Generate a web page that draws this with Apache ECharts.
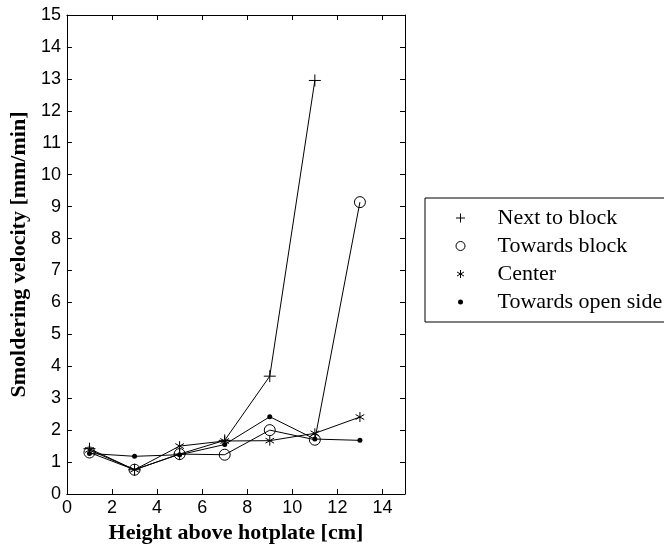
<!DOCTYPE html>
<html>
<head>
<meta charset="utf-8">
<script src="https://cdn.jsdelivr.net/npm/echarts@6/dist/echarts.min.js"></script>
<style>
  html, body { margin: 0; padding: 0; background: #fff; }
  #chart { width: 664px; height: 549px; }
</style>
</head>
<body>
<div id="chart"></div>
<script>
// Heights above the hotplate [cm]
const heights = [1, 3, 5, 7, 9, 11, 13];

// Smoldering velocity [mm/min] per measurement location
const nextToBlock     = [1.42, 0.76, 1.25, 1.68, 3.69, 12.95, null];
const towardsBlock    = [1.30, 0.76, 1.25, 1.23, 2.00, 1.70, 9.14];
const center          = [1.38, 0.76, 1.50, 1.66, 1.67, 1.90, 2.41];
const towardsOpenSide = [1.27, 1.18, 1.23, 1.55, 2.42, 1.72, 1.68];

const seriesNames = ['Next to block', 'Towards block', 'Center', 'Towards open side'];

// Axis ranges
const xMin = 0, xMax = 15, xStep = 2;
const yMin = 0, yMax = 15, yStep = 1;

const pairs = (ys) => heights.map((h, i) => [h, ys[i]]);

// Marker shapes
const PLUS = 'path://M0,5L10,5M5,0L5,10';
const STAR = 'path://M5,0L5,10M0.67,2.5L9.33,7.5M0.67,7.5L9.33,2.5';
// Legend icons, padded to a fixed 12x12 extent
const L_PLUS = 'path://M0,0M12,12M1.5,6L10.5,6M6,1.5L6,10.5';
const L_CIRC = 'path://M0,0M12,12M10.5,6A4.5,4.5,0,1,1,1.5,6A4.5,4.5,0,1,1,10.5,6Z';
const L_STAR = 'path://M0,0M12,12M6,2L6,10M2.54,4L9.46,8M2.54,8L9.46,4';
const L_DOT  = 'path://M0,0M12,12M6,3.5A2.5,2.5,0,1,1,6,8.5A2.5,2.5,0,1,1,6,3.5Z';

const hollow = { color: 'rgba(0,0,0,0)', borderColor: '#000', borderWidth: 1 };
const solid = { color: '#000', borderColor: '#000', borderWidth: 0 };

const tickFont = { fontFamily: 'Liberation Sans', fontSize: 18, color: '#000' };
const titleFont = { fontFamily: 'Liberation Serif', fontSize: 22, fontWeight: 'bold', color: '#000' };

// Boxed frame: every side gets a line with inward ticks
const frameAxis = () => ({
  axisLine: { show: true, onZero: false, lineStyle: { color: '#000', width: 1 } },
  axisTick: { show: true, inside: true, length: 5, lineStyle: { color: '#000', width: 1 } },
  splitLine: { show: false }
});

function lineSeries(name, ys, symbol, size, itemStyle) {
  return {
    name, type: 'line', data: pairs(ys),
    symbol, symbolSize: size, symbolKeepAspect: true,
    showSymbol: true, showAllSymbol: true, connectNulls: false,
    lineStyle: { color: '#000', width: 1 },
    itemStyle,
    emphasis: { disabled: true },
    animation: false,
    z: 2
  };
}

const chart = echarts.init(document.getElementById('chart'));
chart.setOption({
  animation: false,
  backgroundColor: '#fff',
  grid: { left: 66, right: 259, top: 15, bottom: 52 },
  xAxis: [
    Object.assign({
      type: 'value', min: xMin, max: xMax, interval: xStep, position: 'bottom',
      name: 'Height above hotplate [cm]', nameLocation: 'middle', nameGap: 28,
      nameTextStyle: titleFont,
      axisLabel: Object.assign({ margin: 5, showMaxLabel: false }, tickFont)
    }, frameAxis()),
    Object.assign({
      type: 'value', min: xMin, max: xMax, interval: xStep, position: 'top',
      axisLabel: { show: false }
    }, frameAxis())
  ],
  yAxis: [
    Object.assign({
      type: 'value', min: yMin, max: yMax, interval: yStep, position: 'left',
      name: 'Smoldering velocity [mm/min]', nameLocation: 'middle', nameGap: 33,
      nameTextStyle: titleFont,
      axisLabel: Object.assign({ margin: 6 }, tickFont)
    }, frameAxis()),
    Object.assign({
      type: 'value', min: yMin, max: yMax, interval: yStep, position: 'right',
      axisLabel: { show: false }
    }, frameAxis())
  ],
  legend: {
    orient: 'vertical',
    left: 425, top: 198,
    padding: [9, 40, 9, 29],
    itemWidth: 12, itemHeight: 12, itemGap: 6,
    borderColor: '#000', borderWidth: 1,
    backgroundColor: '#fff',
    selectedMode: false,
    textStyle: {
      fontFamily: 'Liberation Serif', fontSize: 22, lineHeight: 22, color: '#000',
      padding: [0, 0, 0, 26]
    },
    data: [
      { name: seriesNames[0], icon: L_PLUS, itemStyle: hollow },
      { name: seriesNames[1], icon: L_CIRC, itemStyle: hollow },
      { name: seriesNames[2], icon: L_STAR, itemStyle: hollow },
      { name: seriesNames[3], icon: L_DOT, itemStyle: solid }
    ]
  },
  series: [
    lineSeries(seriesNames[0], nextToBlock, PLUS, 12, hollow),
    lineSeries(seriesNames[1], towardsBlock, 'circle', 11, hollow),
    lineSeries(seriesNames[2], center, STAR, 10, hollow),
    lineSeries(seriesNames[3], towardsOpenSide, 'circle', 5, solid)
  ]
});
</script>
</body>
</html>
